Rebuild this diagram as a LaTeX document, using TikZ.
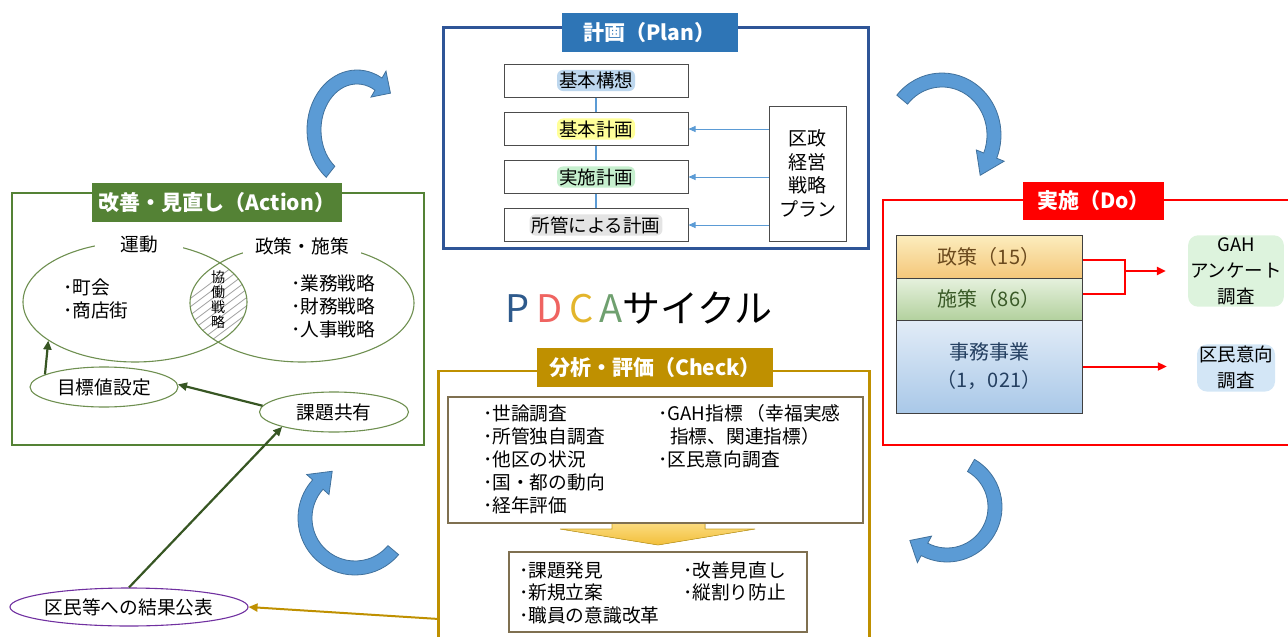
\documentclass[tikz,border=0pt]{standalone}
\usepackage{fontspec}
\setmainfont{Noto Sans CJK JP}
\usetikzlibrary{shapes.geometric,arrows.meta,calc}
\definecolor{planblue}{HTML}{2F5597}
\definecolor{plantitle}{HTML}{2E75B6}
\definecolor{pconn}{HTML}{5B9BD5}
\definecolor{actgreen}{HTML}{548235}
\definecolor{ellgreen}{HTML}{6E8F50}
\definecolor{dkgreen}{HTML}{375623}
\definecolor{doRed}{HTML}{FF0000}
\definecolor{gold}{HTML}{BF9000}
\definecolor{innerbrown}{HTML}{7F7050}
\definecolor{purp}{HTML}{7030A0}
\definecolor{cycblue}{HTML}{5B9BD5}
\definecolor{cycedge}{HTML}{41719C}
\definecolor{gBlue}{HTML}{BDD7EE}
\definecolor{gYellow}{HTML}{FFFF99}
\definecolor{gGreen}{HTML}{C6EFCE}
\definecolor{gGray}{HTML}{E4E4E4}
\definecolor{gGreenL}{HTML}{DDF3DD}
\definecolor{gBlueL}{HTML}{D3E6F6}
\definecolor{pP}{HTML}{2E5A8C}
\definecolor{pD}{HTML}{EF6461}
\definecolor{pC}{HTML}{E3B52C}
\definecolor{pA}{HTML}{6FA06F}
\definecolor{ds1top}{HTML}{FCEDBE}
\definecolor{ds1bot}{HTML}{F4C77A}
\definecolor{ds1txt}{HTML}{6B4A1E}
\definecolor{ds2top}{HTML}{E6F1DE}
\definecolor{ds2bot}{HTML}{B3D19E}
\definecolor{ds2txt}{HTML}{3A5A28}
\definecolor{ds3top}{HTML}{E2ECF7}
\definecolor{ds3bot}{HTML}{A9C8E8}
\definecolor{ds3txt}{HTML}{243F60}
\definecolor{yarTop}{HTML}{FFE699}
\definecolor{yarBot}{HTML}{F2BF3A}
\definecolor{yarEdge}{HTML}{C9A227}
\newcommand{\cyclearrow}[7]{%
 \pgfmathsetmacro{\cyaXo}{#3+7}\pgfmathsetmacro{\cyaYo}{#4+7}%
 \pgfmathsetmacro{\cyaXi}{#3-7}\pgfmathsetmacro{\cyaYi}{#4-7}%
 \filldraw[cyc] ({#1+\cyaXo*cos(#5)},{#2+\cyaYo*sin(#5)})
   arc[start angle=#5,end angle=#6,x radius=\cyaXo,y radius=\cyaYo]
   -- ({#1+(#3+15)*cos(#6)},{#2+(#4+15)*sin(#6)})
   -- ({#1+(#3+2)*cos(#7)},{#2+(#4+2)*sin(#7)})
   -- ({#1+(#3-15)*cos(#6)},{#2+(#4-15)*sin(#6)})
   -- ({#1+\cyaXi*cos(#6)},{#2+\cyaYi*sin(#6)})
   arc[start angle=#6,end angle=#5,x radius=\cyaXi,y radius=\cyaYi] -- cycle;}
\begin{document}
\begin{tikzpicture}[x=1pt,y=-1pt,
  frame/.style={draw,line width=2.4pt,minimum width=#1,inner sep=0pt},
  titlebox/.style={text=white,font=\fontsize{21}{24}\selectfont\bfseries,inner sep=0pt},
  body/.style={font=\fontsize{18.7}{23}\selectfont,inner sep=0pt},
  pbox/.style={draw=black!70,line width=1pt,fill=white,minimum width=184,minimum height=33,inner sep=0pt},
  glow/.style={fill=#1,rounded corners=6pt,inner sep=2pt,font=\fontsize{18.5}{20}\selectfont},
  pline/.style={draw=pconn,line width=1.6pt},
  parrow/.style={draw=pconn,line width=0.9pt,-{Triangle[length=7pt,width=6pt]}},
  ell/.style={ellipse,draw=ellgreen,line width=1.1pt,inner sep=0pt},
  garrow/.style={draw=dkgreen,line width=2.2pt,-{Triangle[length=9pt,width=8pt]}},
  redline/.style={draw=doRed,line width=2pt},
  redarrow/.style={draw=doRed,line width=2pt,-{Triangle[length=9pt,width=8pt]}},
  goldarrow/.style={draw=gold,line width=2pt,-{Triangle[length=9pt,width=8pt]}},
  cyc/.style={fill=cycblue,draw=cycedge,line width=0.8pt},
  dobox/.style={draw=black!75,line width=1pt,minimum width=186,inner sep=0pt,font=\fontsize{20}{28}\selectfont,align=center},
  chkbox/.style={draw=innerbrown,line width=1.3pt,fill=white,inner sep=0pt}
]
\useasboundingbox (0,0) rectangle (1288,637);
\clip (0,0) rectangle (1288,637);

% ---------- cycle arrows ----------
\cyclearrow{357}{130}{43}{53}{128}{300}{318}
\cyclearrow{942}{135}{52}{55}{220}{382}{405}
\cyclearrow{947}{507}{48}{48}{-60}{118}{138}
\cyclearrow{355}{518}{50}{50}{40}{222}{244}

% ---------- Plan ----------
\node[frame=425,draw=planblue,minimum height=221] (planframe) at (656,138) {};
\node[titlebox,fill=plantitle,minimum width=176,minimum height=39] (plantitle) at (649.5,32.5) {計画（Plan）};
\node[pbox] (p1) at (596,80.5) {};
\node[pbox] (p2) at (596,129) {};
\node[pbox] (p3) at (596,177) {};
\node[pbox] (p4) at (596,225) {};
\draw[pline] (p1.south) -- (p2.north);
\draw[pline] (p2.south) -- (p3.north);
\draw[pline] (p3.south) -- (p4.north);
\node[glow=gBlue] (p1t) at (p1) {基本構想};
\node[glow=gYellow] (p2t) at (p2) {基本計画};
\node[glow=gGreen] (p3t) at (p3) {実施計画};
\node[glow=gGray] (p4t) at (p4) {所管による計画};
\node[draw=black!70,line width=1pt,minimum width=77,minimum height=135,inner sep=0pt,align=center,font=\fontsize{19}{23.5}\selectfont] (pr) at (807.5,173.5) {区政\\経営\\戦略\\プラン};
\draw[parrow] (pr.west |- p2.east) -- (p2.east);
\draw[parrow] (pr.west |- p3.east) -- (p3.east);
\draw[parrow] (pr.west |- p4.east) -- (p4.east);

% ---------- PDCA ----------
\node[inner sep=0pt,font=\fontsize{38}{40}\selectfont] (pdca) at (639,308) {\textcolor{pP}{P}\hspace{7pt}\textcolor{pD}{D}\hspace{7pt}\textcolor{pC}{C}\hspace{6pt}\textcolor{pA}{A}サイクル};

% ---------- Action ----------
\node[frame=412,draw=actgreen,minimum height=252] (actframe) at (218,319) {};
\node[titlebox,fill=actgreen,minimum width=250,minimum height=39] (acttitle) at (217,202.5) {改善・見直し（Action）};
\begin{scope}
  \clip (135,302) ellipse (112pt and 60pt);
  \clip (302,303) ellipse (112pt and 60pt);
  \foreach \k in {0,...,15} \draw[gray!75,line width=0.8pt] (95+11*\k,370) -- ++(140,-105);
\end{scope}
\node[ell,minimum width=224,minimum height=120] (undo) at (135,302) {};
\node[ell,minimum width=224,minimum height=118] (seisakuE) at (302,303) {};
\node[body,fill=white,inner xsep=25pt,inner ysep=4pt] (undoL) at (139,245) {運動};
\node[body,fill=white,inner xsep=12pt,inner ysep=4pt] (seiL) at (302,246) {政策・施策};
\node[inner sep=0pt,align=center,font=\fontsize{14}{15}\selectfont] (kyodo) at (218,300) {協\\働\\戦\\略};
\node[body,align=left,anchor=west] (undoItems) at (63,298.5) {･町会\\･商店街};
\node[body,align=left,anchor=west] (seiItems) at (291,306) {･業務戦略\\･財務戦略\\･人事戦略};
\node[ell,body,minimum width=148,minimum height=40] (mokuhyo) at (104,387) {目標値設定};
\node[ell,body,minimum width=149,minimum height=40] (kadai) at (334,412) {課題共有};
\node[ellipse,draw=purp,line width=1.1pt,body,minimum width=238,minimum height=38] (kekka) at (129,607) {区民等への結果公表};
\draw[garrow] (kadai.175) -- (mokuhyo.2);
\draw[garrow] (mokuhyo.168) -- (undo.204);
\draw[garrow] (kekka.north) -- (kadai.196);

% ---------- Do ----------
\node[frame=420,draw=doRed,minimum height=245] (doframe) at (1093,322.5) {};
\node[titlebox,fill=doRed,minimum width=141,minimum height=38] (dotitle) at (1093.5,201) {実施（Do）};
\node[dobox,minimum height=43,top color=ds1top,bottom color=ds1bot,text=ds1txt] (ds1) at (989,256.5) {政策（15）};
\node[dobox,minimum height=42,top color=ds2top,bottom color=ds2bot,text=ds2txt] (ds2) at (989,299) {施策（86）};
\node[dobox,minimum height=93,top color=ds3top,bottom color=ds3bot,text=ds3txt] (ds3) at (989,366.5) {事務事業\\（1，021）};
\coordinate (brk) at (1125,271);
\node[glow=gGreenL,rounded corners=10pt,align=center,font=\fontsize{18.5}{26}\selectfont] (gah) at (1236,271) {GAH\\アンケート\\調査};
\node[glow=gBlueL,rounded corners=10pt,align=center,font=\fontsize{18.5}{26}\selectfont] (kumin) at (1236,368) {区民意向\\調査};
\draw[redline] (ds1.-2) -- (ds1.-2 -| brk) -- (ds2.3 -| brk) -- (ds2.3);
\draw[redarrow,shorten >=22pt] (brk) -- (brk -| gah.west);
\draw[redarrow,shorten >=30pt] (ds3.east) -- (ds3.east -| kumin.west);

% ---------- Check ----------
\node[frame=431,draw=gold,minimum height=280] (chkframe) at (654,511) {};
\node[titlebox,fill=gold,minimum width=236,minimum height=39] (chktitle) at (655,367.5) {分析・評価（Check）};
\fill[top color=yarTop,bottom color=yarBot,draw=yarEdge,line width=0.6pt] (612,515) -- (705,515) -- (705,529) -- (755,529) -- (658,545) -- (560,529) -- (612,529) -- cycle;
\node[chkbox,minimum width=415,minimum height=126] (chk1) at (655.5,460) {};
\node[body,align=left,anchor=west] (chk1L) at (483,459.5) {･世論調査\\･所管独自調査\\･他区の状況\\･国・都の動向\\･経年評価};
\node[body,align=left,anchor=west] (chk1R) at (658,436) {･GAH指標 （幸福実感\\\hspace*{12pt}指標、関連指標）\\･区民意向調査};
\node[chkbox,minimum width=298,minimum height=80] (chk2) at (658,592) {};
\node[body,align=left,anchor=west,font=\fontsize{18.7}{22.5}\selectfont] (chk2L) at (519,592.5) {･課題発見\\･新規立案\\･職員の意識改革};
\node[body,align=left,anchor=west,font=\fontsize{18.7}{22.5}\selectfont] (chk2R) at (683,581.5) {･改善見直し\\･縦割り防止};
\coordinate (chkout) at (439,619);
\draw[goldarrow] (chkout) -- (kekka.east);
\end{tikzpicture}
\end{document}
